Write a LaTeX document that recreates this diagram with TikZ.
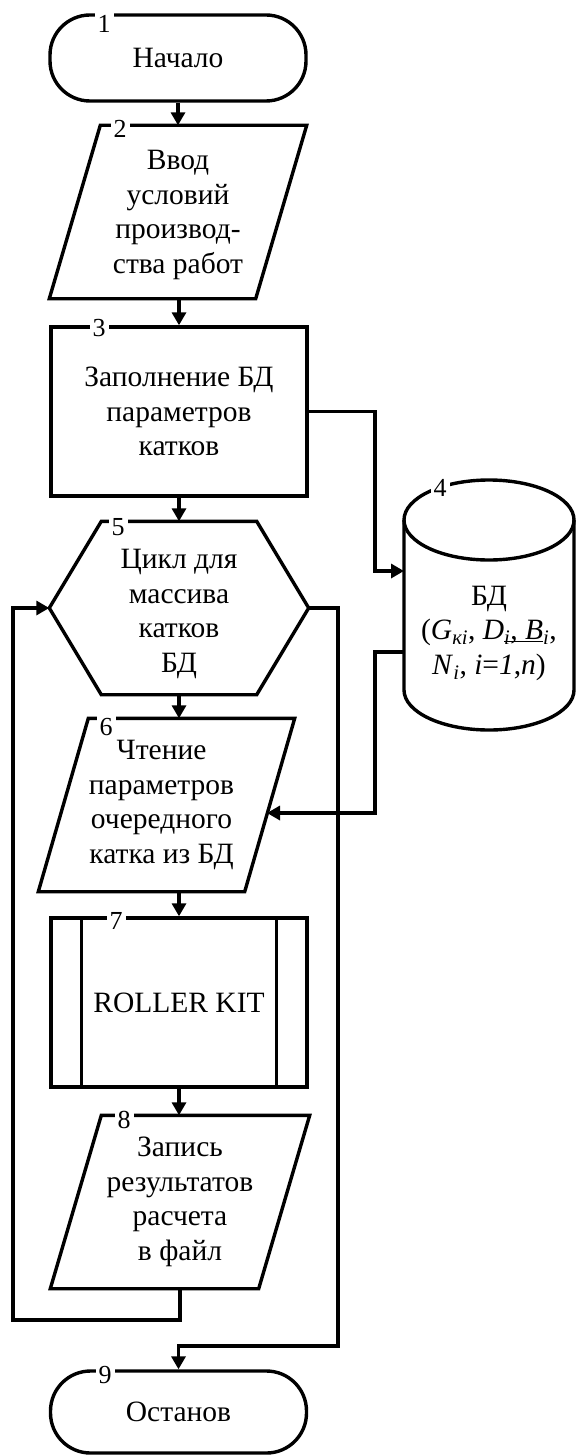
\documentclass[tikz,border=0pt]{standalone}
\usepackage{fontspec}
\setmainfont{Liberation Serif}
\usetikzlibrary{arrows.meta}
\begin{document}
\begin{tikzpicture}[x=1pt,y=1pt, line width=3.4pt,
  txt/.style={font=\fontsize{29.5pt}{34.5pt}\selectfont, align=center, inner sep=0pt},
  num/.style={font=\fontsize{26pt}{26pt}\selectfont, fill=white, inner xsep=3pt, inner ysep=3pt},
  arr/.style={-{Triangle[length=13pt,width=14pt]}},
  term/.style={txt, draw, rounded corners=40pt, minimum width=256pt},
  box/.style={txt, draw, minimum width=256pt, minimum height=169pt},
  frame/.style={inner sep=0pt, minimum width=#1, minimum height=170pt}
]
\useasboundingbox (0,0) rectangle (577,-1455);

% 1 terminal
\node[term, minimum height=86pt] (t1) at (178,-58) {Начало};

% 2 input
\node[frame=254pt, label={[txt, yshift=-3pt]center:{Ввод\\условий\\производ-\\ства работ}}] (p2) at (178,-212) {};
\draw ([xshift=51pt]p2.north west) -- (p2.north east) -- ([xshift=-51pt]p2.south east) -- (p2.south west) -- cycle;

% 3 process
\node[box] (r3) at (179,-411.5) {Заполнение БД\\параметров\\катков};

% 4 database cylinder
\draw (489,-520) ellipse [x radius=85, y radius=40];
\draw (404,-520) -- (404,-690) arc[start angle=180, end angle=360, x radius=85, y radius=40] -- (574,-520);
\node[txt] (db) at (489,-633)
  {БД\\(\textit{G}\textsubscript{\textit{кi}}, \textit{D}\underline{\smash{\textsubscript{\textit{i}}, \textit{B}}}\textsubscript{\textit{i}},\\\textit{N}\textsubscript{\textit{i}}, \textit{i}=\textit{1},\textit{n})};
\coordinate (dbin) at (404,-571);
\coordinate (dbout) at (404,-652);
\coordinate (b1) at (375,-571);
\coordinate (b2) at (375,-813);
\coordinate (p6in) at (267,-813);

% 5 loop hexagon
\node[frame=256pt, label={[txt, yshift=-6pt]center:{Цикл для\\массива\\катков\\БД}}] (h5) at (179,-608) {};
\draw ([xshift=52pt]h5.north west) -- ([xshift=-52pt]h5.north east) -- (h5.east)
  -- ([xshift=-52pt]h5.south east) -- ([xshift=52pt]h5.south west) -- (h5.west) -- cycle;

% 6 input
\node[frame=253pt, label={[txt, xshift=-5pt]center:{Чтение\\параметров\\очередного\\катка из БД}}] (p6) at (166.5,-805) {};
\draw ([xshift=50pt]p6.north west) -- (p6.north east) -- ([xshift=-50pt]p6.south east) -- (p6.south west) -- cycle;

% 7 predefined process
\node[box] (r7) at (179,-1002.5) {ROLLER KIT};
\draw ([xshift=32pt]r7.north west) -- ([xshift=32pt]r7.south west);
\draw ([xshift=-32pt]r7.north east) -- ([xshift=-32pt]r7.south east);

% 8 output
\node[frame=256pt, label={[txt]center:{Запись\\результатов\\расчета\\в файл}}] (p8) at (180,-1202) {};
\draw ([xshift=51pt]p8.north west) -- (p8.north east) -- ([xshift=-51pt]p8.south east) -- (p8.south west) -- cycle;

% 9 terminal
\node[term, minimum height=82pt] (t9) at (178.5,-1412) {Останов};

% connectors
\draw[arr] (t1.south) -- (p2.north);
\draw[arr] (r3.north |- p2.south) -- (r3.north);
\draw[arr] (r3.south) -- (h5.north);
\draw[arr] (h5.south) -- (h5.south |- p6.north);
\draw[arr] (r7.north |- p6.south) -- (r7.north);
\draw[arr] (r7.south) -- (r7.south |- p8.north);
\draw[arr] (r3.east) -| (b1) -- (dbin);
\draw[arr] (dbout) -| (b2) -- (p6in);
\coordinate (lb) at (13,-1320);
\draw[arr] (p8.south) |- (lb) |- (h5.west);
\coordinate (rb) at (338,-1346);
\draw[arr] (h5.east) -| (rb) -| (t9.north);

% block numbers
\node[num] (n1) at (104,-24) {1};
\node[num] (n2) at (120,-129) {2};
\node[num] (n3) at (99,-328) {3};
\node[num] (n4) at (440,-488) {4};
\node[num] (n5) at (118,-527) {5};
\node[num] (n6) at (106,-727) {6};
\node[num] (n7) at (116,-921) {7};
\node[num] (n8) at (124,-1120) {8};
\node[num] (n9) at (105,-1375) {9};
\end{tikzpicture}
\end{document}
